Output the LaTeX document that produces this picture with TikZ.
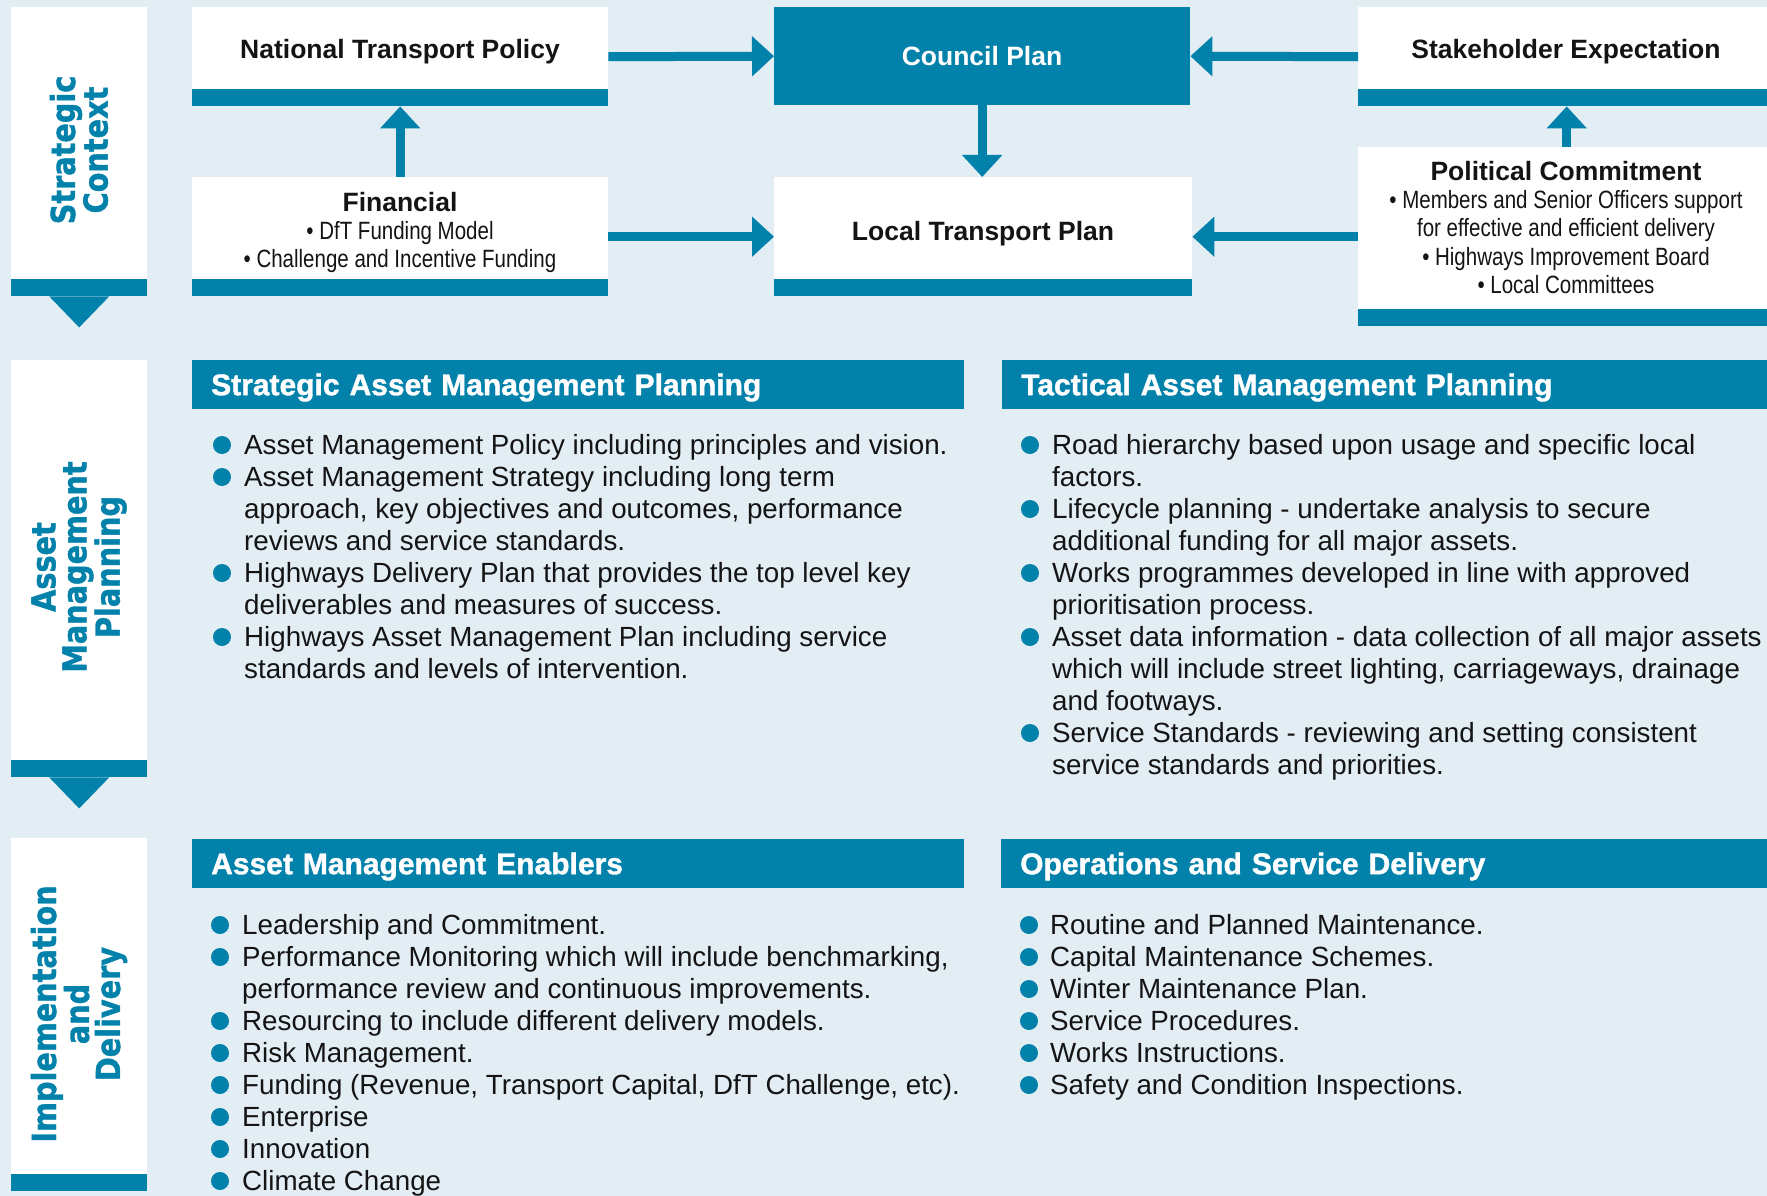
\documentclass[tikz,border=0pt]{standalone}
\usepackage{fontspec}
\setmainfont{Liberation Sans}
\newfontfamily\narrowfont[FakeStretch=0.82]{Liberation Sans}
\newfontfamily\hdrfam[FakeBold=1.2]{Liberation Sans}
\newfontfamily\sidefont[FakeStretch=0.87,FakeBold=1.2]{DejaVu Sans}
\usetikzlibrary{arrows.meta}
\definecolor{tblue}{RGB}{2,130,171}
\definecolor{bgc}{RGB}{226,237,244}
\definecolor{txt}{RGB}{20,20,20}
\newcommand\bodyfont{\fontsize{27.75pt}{32pt}\selectfont}
\newcommand\titlefont{\fontsize{26.5pt}{30pt}\selectfont\bfseries}
\newcommand\hdrfont{\hdrfam\fontsize{30pt}{32pt}\selectfont\bfseries}
\newcommand\nfont{\narrowfont\fontsize{25pt}{28pt}\selectfont}
\newcommand\sidelbl{\sidefont\bfseries\fontsize{33pt}{31pt}\selectfont}
\newcommand\bulletcol[6]{%
  \foreach \t [count=\i] in {#5} {\node[bodytxt] (#4\i) at (#1,{#3+32*(\i-1)}) {\t};}
  \foreach \j in {#6} {\fill[tblue] (#2,{#3+32*(\j-1)-9}) circle[radius=9pt];}
}
\begin{document}
\begin{tikzpicture}[x=1pt,y=-1pt,
  wbox/.style={fill=white, inner sep=0pt, anchor=north west,
    path picture={\fill[tblue] (path picture bounding box.south west) rectangle ([yshift=17pt]path picture bounding box.south east);}},
  bbox/.style={fill=tblue, inner sep=0pt, anchor=north west},
  ttl/.style={anchor=base, inner sep=0pt, font=\titlefont, text=txt},
  nl/.style={anchor=base, inner sep=0pt, font=\nfont, text=txt},
  hdr/.style={fill=tblue, text=white, font=\hdrfont, anchor=north west, inner xsep=19pt, inner ysep=0pt,
    minimum height=49pt, text height=22pt, text depth=1pt, align=left},
  bodytxt/.style={anchor=base west, inner sep=0pt, font=\bodyfont, text=txt},
  side/.style={rotate=90, align=center, inner sep=0pt, font=\sidelbl, text=tblue},
  arr/.style={draw=tblue, line width=9pt, -{Triangle[length=22pt,width=39pt]}}
]
\fill[bgc] (0,0) rectangle (1767,1196);
\useasboundingbox (0,0) rectangle (1767,1196);

% side bars
\node[wbox, minimum width=136pt, minimum height=289pt] (sc) at (11,7) {};
\node[wbox, minimum width=136pt, minimum height=417pt] (amp) at (11,360) {};
\node[wbox, minimum width=136pt, minimum height=353pt] (imp) at (11,838) {};
\fill[tblue] ([xshift=-30pt]sc.south) -- ([xshift=30pt]sc.south) -- ([yshift=-31pt]sc.south) -- cycle;
\fill[tblue] ([xshift=-30pt]amp.south) -- ([xshift=30pt]amp.south) -- ([yshift=-31pt]amp.south) -- cycle;
\node[side] (scT) at (79,150) {Strategic\\Context};
\node[side] (ampT) at (79,567) {Asset\\Management\\Planning};
\node[side] (impT) at (79,1014) {Implementation\\and\\Delivery};

% strategic context boxes
\node[wbox, minimum width=416pt, minimum height=99pt] (ntp) at (192,7) {};
\node[wbox, minimum width=416pt, minimum height=119pt] (fin) at (192,177) {};
\node[bbox, minimum width=416pt, minimum height=98pt] (cp) at (774,7) {};
\node[wbox, minimum width=418pt, minimum height=119pt] (ltp) at (774,177) {};
\node[wbox, minimum width=417pt, minimum height=99pt] (stk) at (1358,7) {};
\node[wbox, minimum width=417pt, minimum height=179pt] (pol) at (1358,147) {};

\node[ttl] (ntpT) at (400,59) {National Transport Policy};
\node[ttl, text=white] (cpT) at (982,66) {Council Plan};
\node[ttl] (stkT) at (1566,59) {Stakeholder Expectation};
\node[ttl] (ltpT) at (983,240) {Local Transport Plan};
\node[ttl] (finT) at (400,211) {Financial};
\node[nl] (fin1) at (400,239) {• DfT Funding Model};
\node[nl] (fin2) at (400,267) {• Challenge and Incentive Funding};
\node[ttl] (polT) at (1566,180) {Political Commitment};
\node[nl] (pol1) at (1566,208) {• Members and Senior Officers support};
\node[nl] (pol2) at (1566,236) {for effective and efficient delivery};
\node[nl] (pol3) at (1566,265) {• Highways Improvement Board};
\node[nl] (pol4) at (1566,293) {• Local Committees};

% arrows
\draw[arr] (fin.north) -- (ntp.south);
\draw[arr] (ntp.east) -- (cp.west);
\draw[arr] (stk.west) -- (cp.east);
\draw[arr] (cp.south) -- (cp.south |- ltp.north);
\draw[arr] (fin.east) -- (ltp.west);
\draw[arr] (pol.west) -- (ltp.east);
\draw[arr] (pol.north) -- (stk.south);

% headers
\node[hdr, text width=734pt] (samp) at (192,360) {Strategic Asset Management Planning};
\node[hdr, text width=727pt] (tamp) at (1002,360) {Tactical Asset Management Planning};
\node[hdr, text width=734pt] (ame) at (192,839) {Asset Management Enablers};
\node[hdr, text width=728pt] (osd) at (1001,839) {Operations and Service Delivery};

% lists
\bulletcol{244}{222}{454}{sa}{Asset Management Policy including principles and vision.,
 Asset Management Strategy including long term,
 {approach, key objectives and outcomes, performance},
 reviews and service standards.,
 Highways Delivery Plan that provides the top level key,
 deliverables and measures of success.,
 Highways Asset Management Plan including service,
 standards and levels of intervention.}{1,2,5,7}
\bulletcol{1052}{1030}{454}{ta}{Road hierarchy based upon usage and specific local,
 factors.,
 Lifecycle planning - undertake analysis to secure,
 additional funding for all major assets.,
 Works programmes developed in line with approved,
 prioritisation process.,
 Asset data information - data collection of all major assets,
 {which will include street lighting, carriageways, drainage},
 and footways.,
 Service Standards - reviewing and setting consistent,
 service standards and priorities.}{1,3,5,7,10}
\bulletcol{242}{220}{934}{ae}{Leadership and Commitment.,
 {Performance Monitoring which will include benchmarking,},
 performance review and continuous improvements.,
 Resourcing to include different delivery models.,
 Risk Management.,
 {Funding (Revenue, Transport Capital, DfT Challenge, etc).},
 Enterprise,
 Innovation,
 Climate Change}{1,2,4,5,6,7,8,9}
\bulletcol{1050}{1029}{934}{os}{Routine and Planned Maintenance.,
 Capital Maintenance Schemes.,
 Winter Maintenance Plan.,
 Service Procedures.,
 Works Instructions.,
 Safety and Condition Inspections.}{1,2,3,4,5,6}
\end{tikzpicture}
\end{document}
